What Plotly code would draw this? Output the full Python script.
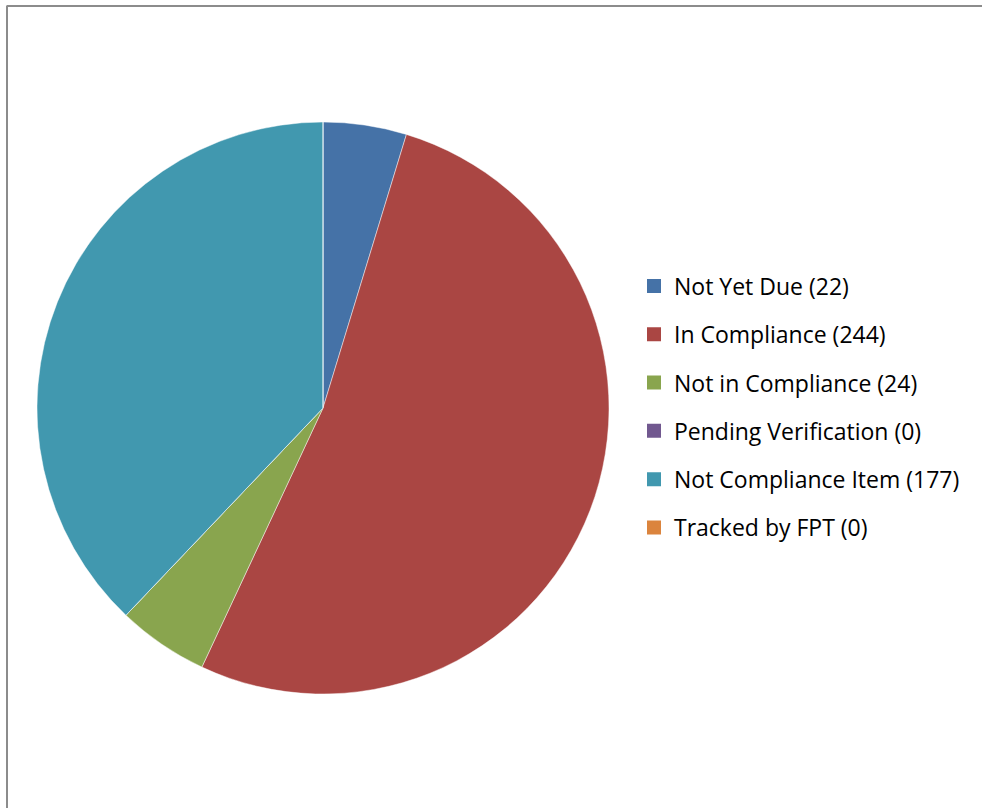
import plotly.graph_objects as go

categories = ["Not Yet Due", "In Compliance", "Not in Compliance",
              "Pending Verification", "Not Compliance Item", "Tracked by FPT"]
counts = [22, 244, 24, 0, 177, 0]
colors = ["#4572A7", "#AA4643", "#89A54E", "#71588F", "#4198AF", "#DB843D"]

W, H = 982, 808
fig = go.Figure()

fig.add_trace(go.Pie(
    labels=categories, values=counts, sort=False, direction="clockwise",
    rotation=0, textinfo="none", showlegend=False, hoverinfo="label+value",
    marker=dict(colors=colors, line=dict(color="rgba(255,255,255,0.45)", width=1)),
    domain=dict(x=[37 / W, 609 / W], y=[(H - 694) / H, (H - 122) / H]),
))

for i, (cat, n, c) in enumerate(zip(categories, counts, colors)):
    fig.add_trace(go.Scatter(
        x=[None], y=[None], mode="markers", name=f"{cat} ({n})",
        legendgroup=f"g{i}",
        marker=dict(symbol="square", size=14, color=c, line=dict(width=0)),
    ))

fig.update_layout(
    width=W, height=H, margin=dict(l=0, r=0, t=0, b=0),
    paper_bgcolor="white", plot_bgcolor="white",
    xaxis=dict(visible=False), yaxis=dict(visible=False),
    legend=dict(
        x=634 / W, y=(H - 264.5) / H, xanchor="left", yanchor="top",
        font=dict(family="Open Sans, sans-serif", size=23, color="#000000"),
        traceorder="grouped", tracegroupgap=15.4, itemwidth=30,
        bgcolor="rgba(0,0,0,0)",
    ),
    shapes=[
        dict(type="line", xref="paper", yref="paper",
             x0=6.5 / W, x1=1.05, y0=(H - 6) / H, y1=(H - 6) / H,
             line=dict(color="#8c8c8c", width=2)),
        dict(type="line", xref="paper", yref="paper",
             x0=7 / W, x1=7 / W, y0=-0.05, y1=(H - 6) / H,
             line=dict(color="#8c8c8c", width=2)),
    ],
)

fig.write_html(
    "out.html",
    config={"displayModeBar": False},
    post_script="document.body.style.margin='0';document.body.style.overflow='hidden';",
)
